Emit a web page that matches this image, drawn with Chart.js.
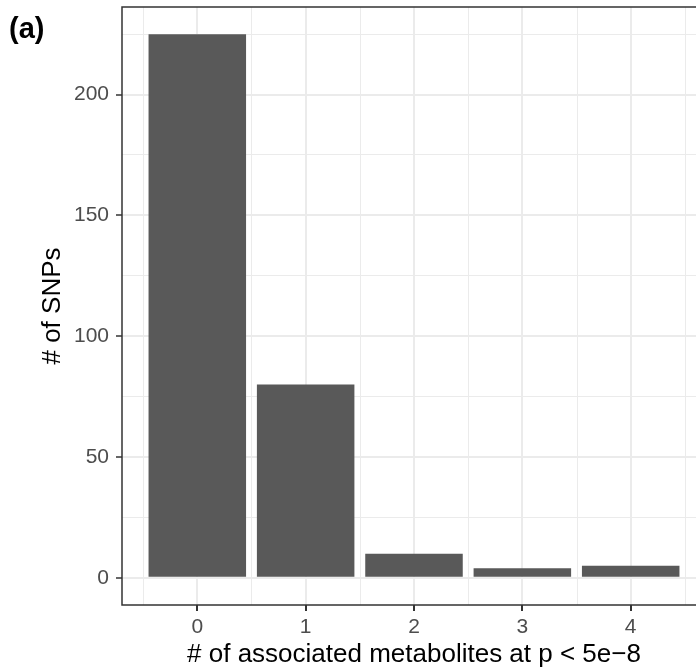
<!DOCTYPE html>
<html>
<head>
<meta charset="utf-8">
<script src="https://cdn.jsdelivr.net/npm/chart.js@4.4.1/dist/chart.umd.min.js"></script>
<style>
  html, body { margin: 0; padding: 0; background: #fff; overflow: hidden; }
  #wrap { width: 720px; height: 670px; }
</style>
</head>
<body>
<div id="wrap"><canvas id="chart" width="720" height="670"></canvas></div>
<script>
// values
const categories = [0, 1, 2, 3, 4];
const snpCounts = [225, 80, 10, 4, 5];
const yMajorTicks = [0, 50, 100, 150, 200];
const yMinorTicks = [25, 75, 125, 175, 225];
const xMinorTicks = [-0.5, 0.5, 1.5, 2.5, 3.5, 4.5];

const xTitle = '# of associated metabolites at p < 5e\u22128';
const yTitle = '# of SNPs';
const panelTag = '(a)';

// ggplot style 5% expansion around bars (width 0.9) and counts
const xLo = categories[0] - 0.45, xHi = categories[categories.length - 1] + 0.45;
const yLo = 0, yHi = Math.max(...snpCounts);
const xPad = (xHi - xLo) * 0.05, yPad = (yHi - yLo) * 0.05;

const FONT = "'Liberation Sans', Arial, Helvetica, sans-serif";
const GRID = '#EBEBEB';
const DARK = '#333333';

function isMajor(v, list) {
    return list.some(m => Math.abs(m - v) < 1e-9);
}

function noEdgePadding(s) {
    s.paddingTop = 0;
    s.paddingBottom = 0;
    s.paddingLeft = 0;
    s.paddingRight = 0;
}

// minor vertical grid lines, x tick marks, panel border and tag
const panelPlugin = {
    id: 'panel',
    beforeDatasetsDraw(chart) {
        const { ctx, chartArea: a, scales } = chart;
        ctx.save();
        ctx.strokeStyle = GRID;
        ctx.lineWidth = 1;
        xMinorTicks.forEach(v => {
            const px = Math.round(scales.x.getPixelForValue(v)) + 0.5;
            ctx.beginPath();
            ctx.moveTo(px, a.top);
            ctx.lineTo(px, a.bottom);
            ctx.stroke();
        });
        ctx.restore();
    },
    afterDatasetsDraw(chart) {
        const { ctx, chartArea: a } = chart;
        ctx.save();
        ctx.strokeStyle = DARK;
        ctx.lineWidth = 1.5;
        ctx.strokeRect(a.left, a.top, a.right - a.left, a.bottom - a.top);
        ctx.restore();
    },
    afterDraw(chart) {
        const { ctx, chartArea: a, scales } = chart;
        ctx.save();
        ctx.strokeStyle = DARK;
        ctx.lineWidth = 2;
        categories.forEach(v => {
            const px = Math.round(scales.x.getPixelForValue(v));
            ctx.beginPath();
            ctx.moveTo(px, a.bottom);
            ctx.lineTo(px, a.bottom + 6);
            ctx.stroke();
        });
        ctx.fillStyle = '#000';
        ctx.font = 'bold 29px ' + FONT;
        ctx.textBaseline = 'alphabetic';
        ctx.fillText(panelTag, 9, 38);
        ctx.restore();
    }
};

const ctx = document.getElementById('chart').getContext('2d');
new Chart(ctx, {
    type: 'bar',
    data: {
        datasets: [{
            data: categories.map((c, i) => ({ x: c, y: snpCounts[i] })),
            backgroundColor: '#595959',
            borderWidth: 0,
            barPercentage: 0.9,
            categoryPercentage: 1.0
        }]
    },
    options: {
        responsive: false,
        animation: false,
        layout: { padding: { top: 7, right: 14, left: 0, bottom: 0 } },
        plugins: {
            legend: { display: false },
            tooltip: { enabled: false }
        },
        scales: {
            x: {
                type: 'linear',
                offset: false,
                min: xLo - xPad,
                max: xHi + xPad,
                afterBuildTicks: s => {
                    s.ticks = categories.map(v => ({ value: v }));
                },
                afterFit: s => { s.height = 65; noEdgePadding(s); },
                ticks: {
                    autoSkip: false,
                    maxRotation: 0,
                    padding: 4,
                    color: '#4D4D4D',
                    font: { family: FONT, size: 21 },
                    callback: v => String(v)
                },
                grid: {
                    offset: false,
                    color: GRID,
                    lineWidth: 2,
                    tickColor: DARK,
                    tickLength: 6,
                    tickWidth: 1.5
                },
                border: { display: false },
                title: {
                    display: true,
                    text: xTitle,
                    color: '#000',
                    font: { family: FONT, size: 26 },
                    padding: { top: 0, bottom: 0 }
                }
            },
            y: {
                min: yLo - yPad,
                max: yHi + yPad,
                afterBuildTicks: s => {
                    s.ticks = yMajorTicks.concat(yMinorTicks).sort((a, b) => a - b).map(v => ({ value: v }));
                },
                afterFit: s => { s.width = 122; noEdgePadding(s); },
                ticks: {
                    padding: 7,
                    color: '#4D4D4D',
                    font: { family: FONT, size: 21 },
                    callback: v => isMajor(v, yMajorTicks) ? String(v) : ''
                },
                grid: {
                    color: GRID,
                    lineWidth: c => (c.tick && isMajor(c.tick.value, yMajorTicks)) ? 2 : 1,
                    tickColor: c => (c.tick && isMajor(c.tick.value, yMajorTicks)) ? DARK : 'rgba(0,0,0,0)',
                    tickLength: 6,
                    tickWidth: 1.5
                },
                border: { display: false },
                title: {
                    display: true,
                    text: yTitle,
                    color: '#000',
                    font: { family: FONT, size: 26 },
                    padding: { top: 37, bottom: 0 }
                }
            }
        }
    },
    plugins: [panelPlugin]
});
</script>
</body>
</html>
